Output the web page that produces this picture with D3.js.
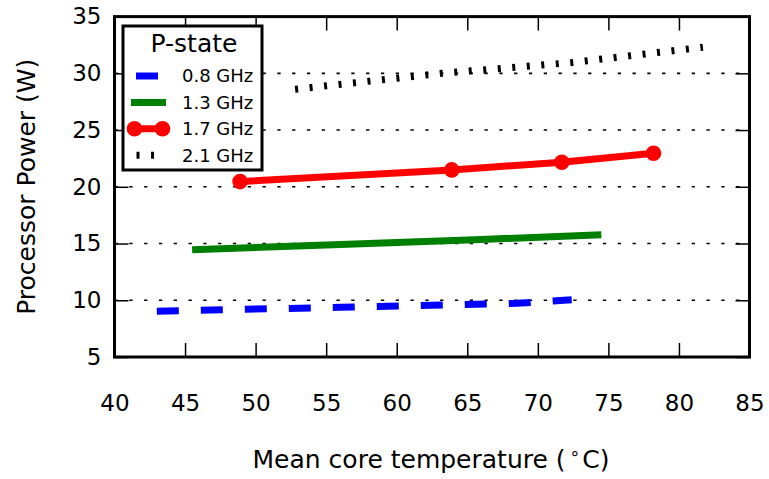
<!DOCTYPE html>
<html>
<head>
<meta charset="utf-8">
<script src="https://cdnjs.cloudflare.com/ajax/libs/d3/7.8.5/d3.min.js"></script>
<style>
	body { margin: 0; background: #fff; }
	text { font-family: "DejaVu Sans", sans-serif; fill: #000; }
</style>
</head>
<body>
<div id="chart-area"></div>
<script>
// data: [temperature, power]
var pstates = ["0.8 GHz", "1.3 GHz", "1.7 GHz", "2.1 GHz"];
var data08 = [[43.0, 9.04], [56.0, 9.38], [68.5, 9.73], [72.4, 10.05]];
var data13 = [[45.5, 14.45], [55.5, 14.9], [66.0, 15.36], [74.5, 15.77]];
var data17 = [[48.9, 20.46], [63.9, 21.49], [71.7, 22.17], [78.2, 22.96]];
var data21 = [[52.8, 28.6], [63.2, 30.0], [72.4, 30.95], [81.7, 32.3]];
var xTicks = [40, 45, 50, 55, 60, 65, 70, 75, 80, 85];
var yTicks = [5, 10, 15, 20, 25, 30, 35];

var W = 769, H = 479;

var svg = d3.select("#chart-area")
	.append("svg")
		.attr("width", W)
		.attr("height", H);

//scales
var x = d3.scaleLinear()
	.domain([40, 85])
	.range([114.5, 749.5]);

var y = d3.scaleLinear()
	.domain([5, 35])
	.range([357, 16.6]);

//dotted grid, horizontal only
svg.append("g")
	.selectAll("line")
	.data(yTicks.slice(1, -1))
	.enter().append("line")
		.attr("x1", x(40))
		.attr("x2", x(85))
		.attr("y1", function(d){ return y(d) })
		.attr("y2", function(d){ return y(d) })
		.attr("stroke", "#000")
		.attr("stroke-width", 1.6)
		.attr("stroke-dasharray", "3.3,11.5");

//series styles
var series = [
	{name: pstates[0], values: data08, color: "#0000ff", dash: [22, 22], width: 7},
	{name: pstates[1], values: data13, color: "#008000", dash: null, width: 7},
	{name: pstates[2], values: data17, color: "#ff0000", dash: null, width: 7, marker: true},
	{name: pstates[3], values: data21, color: "#000000", dash: [3, 11.55], width: 7}
];

var line = d3.line()
	.x(function(d){ return x(d[0]) })
	.y(function(d){ return y(d[1]) });

series.forEach(function(s){
	svg.append("path")
		.attr("d", line(s.values))
		.attr("fill", "none")
		.attr("stroke", s.color)
		.attr("stroke-width", s.width)
		.attr("stroke-dasharray", s.dash ? s.dash.join(",") : null);
	if (s.marker) {
		svg.append("g").selectAll("circle")
			.data(s.values)
			.enter().append("circle")
				.attr("cx", function(d){ return x(d[0]) })
				.attr("cy", function(d){ return y(d[1]) })
				.attr("r", 7.8)
				.attr("fill", s.color);
	}
});

//axes, ticks pointing inwards on all four sides
var tickLen = 14;
var xAxisB = d3.axisBottom(x).tickValues(xTicks).tickSize(-tickLen).tickPadding(38);
var xAxisT = d3.axisTop(x).tickValues(xTicks).tickSize(-tickLen).tickFormat("");
var yAxisL = d3.axisLeft(y).tickValues(yTicks).tickSize(-tickLen).tickPadding(13);
var yAxisR = d3.axisRight(y).tickValues(yTicks).tickSize(-tickLen).tickFormat("");

function styleAxis(g) {
	g.select(".domain").remove();
	g.selectAll(".tick line").attr("stroke", "#000").attr("stroke-width", 1.5);
	g.selectAll(".tick text")
		.attr("font-size", 23)
		.attr("font-family", "DejaVu Sans");
}

svg.append("g").attr("transform", "translate(0," + y(5) + ")").call(xAxisB).call(styleAxis);
svg.append("g").attr("transform", "translate(0," + y(35) + ")").call(xAxisT).call(styleAxis);
svg.append("g").attr("transform", "translate(" + x(40) + ",0)").call(yAxisL).call(styleAxis);
svg.append("g").attr("transform", "translate(" + x(85) + ",0)").call(yAxisR).call(styleAxis);

//frame
svg.append("rect")
	.attr("x", x(40))
	.attr("y", y(35))
	.attr("width", x(85) - x(40))
	.attr("height", y(5) - y(35))
	.attr("fill", "none")
	.attr("stroke", "#000")
	.attr("stroke-width", 3);

//labels
var xLabel = svg.append("text")
	.attr("x", 431)
	.attr("y", 468)
	.attr("font-size", 25)
	.attr("text-anchor", "middle");
xLabel.append("tspan").text("Mean core temperature (");
xLabel.append("tspan").attr("dx", 4).attr("dy", -9).attr("font-size", 17).text("\u2218");
xLabel.append("tspan").attr("dx", 2).attr("dy", 9).text("C)");

svg.append("text")
	.attr("transform", "translate(35," + ((y(5) + y(35)) / 2) + ") rotate(-90)")
	.attr("font-size", 25)
	.attr("text-anchor", "middle")
	.text("Processor Power (W)");

//legend
var legend = svg.append("g");

legend.append("rect")
	.attr("x", 123)
	.attr("y", 26)
	.attr("width", 139)
	.attr("height", 144)
	.attr("fill", "#fff")
	.attr("stroke", "#000")
	.attr("stroke-width", 3);

legend.append("text")
	.attr("x", 194)
	.attr("y", 52)
	.attr("font-size", 25)
	.attr("text-anchor", "middle")
	.text("P-state");

var offsets = [-1.5, 0, 0, -2];

series.forEach(function(s, i){
	var ry = 76 + i * 26.4;
	var row = legend.append("g");
	row.append("line")
		.attr("x1", 134.5)
		.attr("x2", 162.5)
		.attr("y1", ry)
		.attr("y2", ry)
		.attr("stroke", s.color)
		.attr("stroke-width", s.width)
		.attr("stroke-linecap", s.dash ? "butt" : "square")
		.attr("stroke-dasharray", s.dash ? s.dash.join(",") : null)
		.attr("stroke-dashoffset", offsets[i]);
	if (s.marker) {
		row.selectAll("circle")
			.data([134.5, 162.5])
			.enter().append("circle")
				.attr("cx", function(d){ return d })
				.attr("cy", ry)
				.attr("r", 7.8)
				.attr("fill", s.color);
	}
	row.append("text")
		.attr("x", 182)
		.attr("y", ry)
		.attr("dy", "0.36em")
		.attr("font-size", 18)
		.text(s.name);
});
</script>
</body>
</html>
